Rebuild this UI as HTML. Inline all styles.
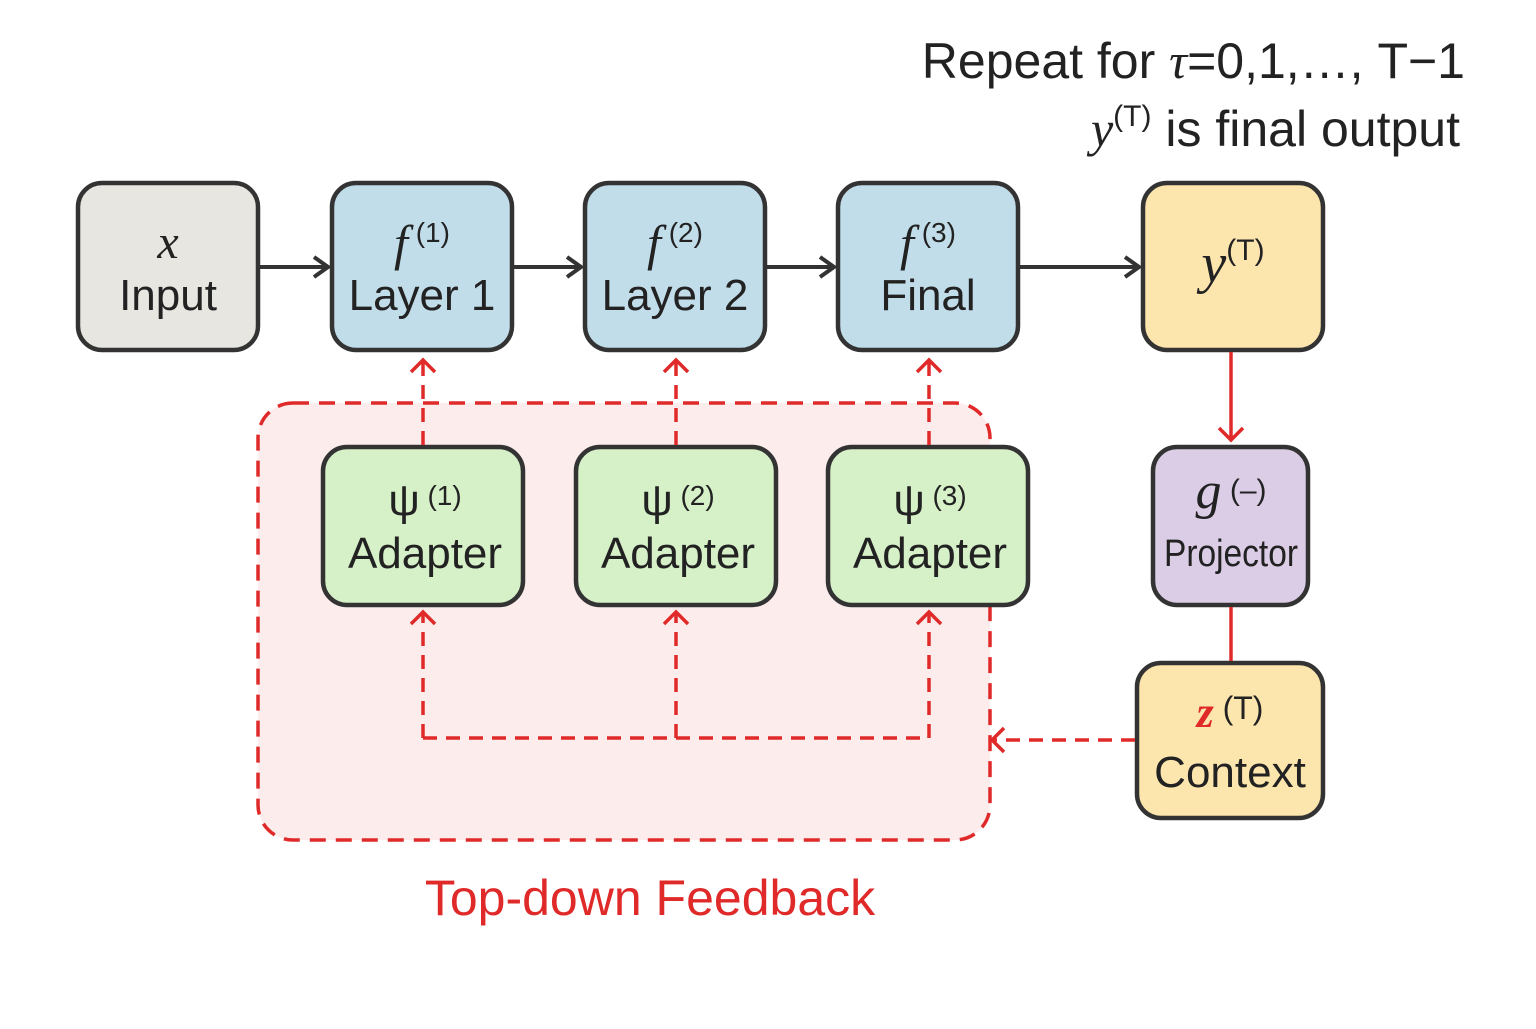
<!DOCTYPE html><html><head><style>body{margin:0;background:#fff}</style></head><body>
<svg width="1536" height="1024" xmlns="http://www.w3.org/2000/svg" font-family="Liberation Sans, DejaVu Sans, sans-serif">
<defs>
<marker id="ak" markerWidth="20" markerHeight="24" refX="17" refY="12" orient="auto" markerUnits="userSpaceOnUse"><path d="M3,2 L17,12 L3,22" fill="none" stroke="#333" stroke-width="4"/></marker>
<marker id="ar" markerWidth="28" markerHeight="28" refX="14" refY="14" orient="auto" markerUnits="userSpaceOnUse"><path d="M2,2 L14,14 L2,26" fill="none" stroke="#e02a2a" stroke-width="3.5"/></marker>
</defs>
<rect x="258" y="403" width="732" height="437" rx="35" fill="#fdecec" stroke="#e02a2a" stroke-width="3.5" stroke-dasharray="16,10"/>
<g stroke="#333" stroke-width="4.5">
<rect x="78" y="183" width="180" height="167" rx="24" fill="#e8e6e1"/>
<rect x="332" y="183" width="180" height="167" rx="24" fill="#c2ddea"/>
<rect x="585" y="183" width="180" height="167" rx="24" fill="#c2ddea"/>
<rect x="838" y="183" width="180" height="167" rx="24" fill="#c2ddea"/>
<rect x="1143" y="183" width="180" height="167" rx="24" fill="#fde5ae"/>
<rect x="323" y="447" width="200" height="158" rx="24" fill="#d6f0c8"/>
<rect x="576" y="447" width="200" height="158" rx="24" fill="#d6f0c8"/>
<rect x="828" y="447" width="200" height="158" rx="24" fill="#d6f0c8"/>
<rect x="1153" y="447" width="155" height="158" rx="24" fill="#dccde6"/>
<rect x="1137" y="663" width="186" height="155" rx="24" fill="#fde5ae"/>
</g>
<g stroke="#333" stroke-width="4" marker-end="url(#ak)">
<line x1="260" y1="267" x2="328" y2="267"/><line x1="514" y1="267" x2="581" y2="267"/>
<line x1="767" y1="267" x2="834" y2="267"/><line x1="1020" y1="267" x2="1139" y2="267"/>
</g>
<g stroke="#e02a2a" stroke-width="3.5" fill="none" stroke-dasharray="14,9">
<line x1="423" y1="445" x2="423" y2="360" marker-end="url(#ar)"/>
<line x1="676" y1="445" x2="676" y2="360" marker-end="url(#ar)"/>
<line x1="929" y1="445" x2="929" y2="360" marker-end="url(#ar)"/>
<line x1="423" y1="738" x2="423" y2="612" marker-end="url(#ar)"/>
<line x1="676" y1="738" x2="676" y2="612" marker-end="url(#ar)"/>
<line x1="929" y1="738" x2="929" y2="612" marker-end="url(#ar)"/>
<line x1="423" y1="738" x2="929" y2="738"/>
<line x1="1135" y1="740" x2="992" y2="740" marker-end="url(#ar)"/>
</g>
<line x1="1231" y1="352" x2="1231" y2="440" stroke="#e02a2a" stroke-width="3.5" marker-end="url(#ar)"/>
<line x1="1231" y1="607" x2="1231" y2="661" stroke="#e02a2a" stroke-width="3.5"/>
<g fill="#222" text-anchor="middle" font-size="44">
<text x="168" y="258" font-family="Liberation Serif, serif" font-style="italic" font-size="48">x</text><text x="168" y="310">Input</text>
<text x="422" y="260"><tspan font-family="Liberation Serif, serif" font-style="italic" font-size="50">f</tspan><tspan font-size="28" dy="-18"> (1)</tspan></text><text x="422" y="310">Layer 1</text>
<text x="675" y="260"><tspan font-family="Liberation Serif, serif" font-style="italic" font-size="50">f</tspan><tspan font-size="28" dy="-18"> (2)</tspan></text><text x="675" y="310">Layer 2</text>
<text x="928" y="260"><tspan font-family="Liberation Serif, serif" font-style="italic" font-size="50">f</tspan><tspan font-size="28" dy="-18"> (3)</tspan></text><text x="928" y="310">Final</text>
<text x="1233" y="282" font-size="56"><tspan font-family="Liberation Serif, serif" font-style="italic">y</tspan><tspan font-size="30" dy="-22">(T)</tspan></text>
<text x="425" y="515">ψ<tspan font-size="28" dy="-10"> (1)</tspan></text><text x="425" y="568">Adapter</text>
<text x="678" y="515">ψ<tspan font-size="28" dy="-10"> (2)</tspan></text><text x="678" y="568">Adapter</text>
<text x="930" y="515">ψ<tspan font-size="28" dy="-10"> (3)</tspan></text><text x="930" y="568">Adapter</text>
<text x="1231" y="508"><tspan font-family="Liberation Serif, serif" font-style="italic" font-size="52">g</tspan><tspan font-size="30" dy="-8"> (–)</tspan></text>
<text x="1231" y="566" font-size="38" textLength="134" lengthAdjust="spacingAndGlyphs">Projector</text>
<text x="1230" y="727"><tspan fill="#e02a2a" font-family="Liberation Serif, serif" font-style="italic" font-weight="bold">z</tspan><tspan font-size="32" dy="-8"> (T)</tspan></text>
<text x="1230" y="787">Context</text>
</g>
<text x="650" y="915" fill="#e02a2a" font-size="50" text-anchor="middle">Top-down Feedback</text>
<g fill="#222" font-size="50" text-anchor="end">
<text x="1465" y="78">Repeat for <tspan font-family="Liberation Serif, serif" font-style="italic">τ</tspan>=0,1,…, T−1</text>
<text x="1460" y="146"><tspan font-family="Liberation Serif, serif" font-style="italic">y</tspan><tspan font-size="30" dy="-20">(T)</tspan><tspan dy="20"> is final output</tspan></text>
</g>
</svg>
</body></html>
